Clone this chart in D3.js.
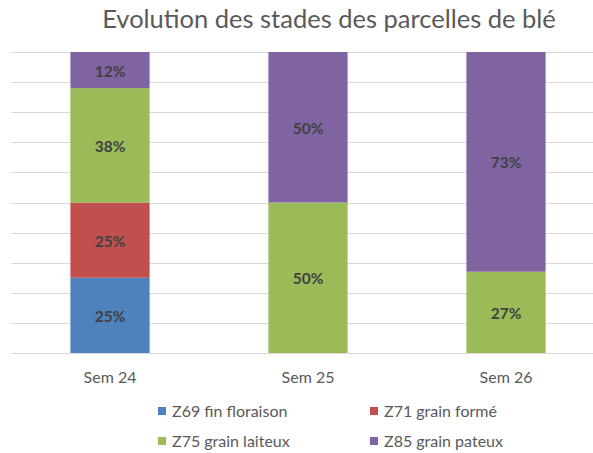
<!DOCTYPE html>
<html><head><meta charset="utf-8">
<script src="https://cdn.jsdelivr.net/npm/d3@7"></script>
<style>body{margin:0;background:#fff}svg{display:block}text{font-family:Lato,"Open Sans",sans-serif}</style>
</head><body>
<script>
const categories = ["Sem 24", "Sem 25", "Sem 26"];
const seriesNames = ["Z69 fin floraison", "Z71 grain formé", "Z75 grain laiteux", "Z85 grain pateux"];
const z69 = [25, 0, 0];
const z71 = [25, 0, 0];
const z75 = [38, 50, 27];
const z85 = [12, 50, 73];
const colors = ["#4F81BD", "#C0504D", "#9BBB59", "#8064A2"];
const yTicks = [0,10,20,30,40,50,60,70,80,90,100];
const title = "Evolution des stades des parcelles de blé";

const W = 593, H = 453;
const svg = d3.select("body").append("svg").attr("width", W).attr("height", H);

const rows = categories.map((c, i) => ({cat: c, s0: z69[i], s1: z71[i], s2: z75[i], s3: z85[i]}));
const keys = ["s0","s1","s2","s3"];
const stacked = d3.stack().keys(keys)(rows);

const x = d3.scaleBand().domain(categories).range([11, 605]).paddingInner(0.6).paddingOuter(0.3);
const y = d3.scaleLinear().domain([0, 100]).range([353, 52]);

svg.append("g").selectAll("line").data(yTicks).join("line")
  .attr("x1", 11).attr("x2", 605)
  .attr("y1", d => Math.round(y(d)) + 0.5).attr("y2", d => Math.round(y(d)) + 0.5)
  .attr("stroke", "#D9D9D9").attr("stroke-width", 1);

const g = svg.append("g");
stacked.forEach((layer, li) => {
  g.append("g").selectAll("rect").data(layer).join("rect")
    .attr("x", d => x(d.data.cat))
    .attr("width", x.bandwidth())
    .attr("y", d => y(d[1]))
    .attr("height", d => y(d[0]) - y(d[1]))
    .attr("fill", colors[li]);
  g.append("g").selectAll("text").data(layer.filter(d => d[1] - d[0] > 0)).join("text")
    .attr("x", d => x(d.data.cat) + x.bandwidth() / 2)
    .attr("y", d => (y(d[0]) + y(d[1])) / 2 + 1)
    .attr("dy", "0.36em")
    .attr("text-anchor", "middle")
    .attr("font-size", 15.5).attr("font-weight", "bold").attr("fill", "#404040")
    .text(d => (d[1] - d[0]) + "%");
});

const xAxis = svg.append("g").attr("transform", "translate(0,353)")
  .call(d3.axisBottom(x).tickSize(0).tickPadding(19));
xAxis.select(".domain").remove();
xAxis.selectAll("text").attr("font-size", 16).attr("fill", "#595959").attr("font-family", "Lato,sans-serif");

svg.append("text").attr("x", 329).attr("y", 28).attr("text-anchor", "middle")
  .attr("font-size", 25.5).attr("fill", "#595959").text(title);

const legendPos = [[158, 411], [370, 411], [158, 441], [370, 441]];
const lg = svg.append("g").selectAll("g").data(seriesNames).join("g")
  .attr("transform", (d, i) => `translate(${legendPos[i][0]},${legendPos[i][1]})`);
lg.append("rect").attr("x", 0).attr("y", -4).attr("width", 8).attr("height", 8).attr("fill", (d, i) => colors[i]);
lg.append("text").attr("x", 14).attr("dy", "0.36em").attr("font-size", 16).attr("fill", "#595959").text(d => d);
</script>
</body></html>
